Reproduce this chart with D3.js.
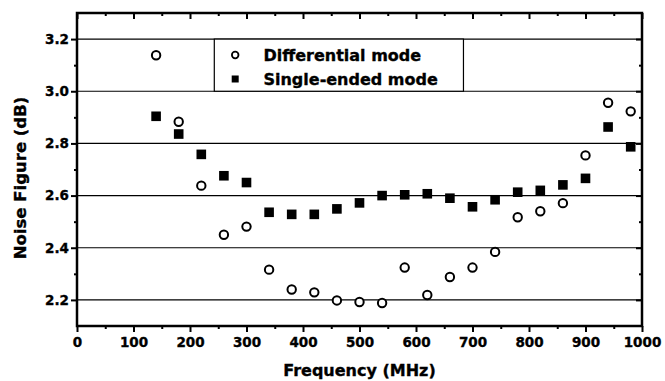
<!DOCTYPE html>
<html>
<head>
<meta charset="utf-8">
<script src="https://cdn.jsdelivr.net/npm/d3@7"></script>
<style>
  body { margin: 0; background: #fff; }
  text { font-family: "DejaVu Sans", "Liberation Sans", Arial, sans-serif; font-weight: bold; fill: #000; stroke: #000; stroke-width: 0.35px; }
</style>
</head>
<body>
<script>
// frequency points (MHz)
var freqs = [140, 180, 220, 260, 300, 340, 380, 420, 460, 500, 540, 580, 620, 660, 700, 740, 780, 820, 860, 900, 940, 980];
// noise figure, differential mode (dB)
var diffNF = [3.138, 2.883, 2.638, 2.45, 2.481, 2.316, 2.24, 2.229, 2.198, 2.192, 2.188, 2.324, 2.219, 2.288, 2.324, 2.384, 2.517, 2.54, 2.571, 2.754, 2.956, 2.923];
// noise figure, single-ended mode (dB)
var singleNF = [2.904, 2.836, 2.758, 2.676, 2.65, 2.536, 2.528, 2.528, 2.549, 2.572, 2.6, 2.603, 2.607, 2.59, 2.557, 2.584, 2.613, 2.62, 2.641, 2.666, 2.863, 2.787];
var xTicks = [0, 100, 200, 300, 400, 500, 600, 700, 800, 900, 1000];
var yTicks = [2.2, 2.4, 2.6, 2.8, 3.0, 3.2];
var seriesNames = ["Differential mode", "Single-ended mode"];

var W = 665, H = 381;
var margin = {left: 77, right: 23, top: 13, bottom: 55};
var w = W - margin.left - margin.right;
var h = H - margin.top - margin.bottom;

var svg = d3.select("body").append("svg")
    .attr("width", W)
    .attr("height", H);

var x = d3.scaleLinear().domain([0, 1000]).range([0, w]);
var y = d3.scaleLinear().domain([2.1, 3.3]).range([h, 0]);

var g = svg.append("g")
    .attr("transform", "translate(" + margin.left + " " + margin.top + ")");

// gridlines
g.append("g").selectAll("line")
    .data(yTicks).enter()
    .append("line")
    .attr("x1", 0).attr("x2", w)
    .attr("y1", function (d) { return y(d); })
    .attr("y2", function (d) { return y(d); })
    .attr("stroke", "#000")
    .attr("stroke-width", 1.2);

// minor ticks
var xMinor = d3.range(50, 1000, 100);
var yMinor = [2.3, 2.5, 2.7, 2.9, 3.1];

function styleAxis(sel) {
    sel.select(".domain").remove();
    sel.selectAll(".tick line").attr("stroke", "#000").attr("stroke-width", 2);
    sel.selectAll(".tick text").style("font-size", "13.5px");
}

// bottom
g.append("g").attr("transform", "translate(0 " + h + ")")
    .call(d3.axisBottom(x).tickValues(xTicks).tickFormat(d3.format("d")).tickSize(6).tickPadding(5))
    .call(styleAxis);
g.append("g").attr("transform", "translate(0 " + h + ")")
    .call(d3.axisBottom(x).tickValues(xMinor).tickFormat("").tickSize(3))
    .call(styleAxis);
// top (inward)
g.append("g")
    .call(d3.axisBottom(x).tickValues(xTicks).tickFormat("").tickSize(6))
    .call(styleAxis);
g.append("g")
    .call(d3.axisBottom(x).tickValues(xMinor).tickFormat("").tickSize(3))
    .call(styleAxis);
// left
g.append("g")
    .call(d3.axisLeft(y).tickValues(yTicks).tickFormat(d3.format(".1f")).tickSize(6).tickPadding(2))
    .call(styleAxis);
g.append("g")
    .call(d3.axisLeft(y).tickValues(yMinor).tickFormat("").tickSize(3))
    .call(styleAxis);
// right (inward)
g.append("g").attr("transform", "translate(" + w + " 0)")
    .call(d3.axisLeft(y).tickValues(yTicks).tickFormat("").tickSize(6))
    .call(styleAxis);
g.append("g").attr("transform", "translate(" + w + " 0)")
    .call(d3.axisLeft(y).tickValues(yMinor).tickFormat("").tickSize(3))
    .call(styleAxis);

// frame
g.append("rect")
    .attr("width", w).attr("height", h)
    .attr("fill", "none")
    .attr("stroke", "#000")
    .attr("stroke-width", 2.5);

// legend box
var lg = g.append("g").attr("class", "legend");
lg.append("rect")
    .attr("x", x(243)).attr("y", y(3.2))
    .attr("width", x(684) - x(243))
    .attr("height", y(3.0) - y(3.2))
    .attr("fill", "#fff")
    .attr("stroke", "#000")
    .attr("stroke-width", 1.2);
lg.append("circle")
    .attr("cx", x(280)).attr("cy", y(3.139))
    .attr("r", 3.3)
    .attr("fill", "#fff").attr("stroke", "#000").attr("stroke-width", 1.8);
lg.append("rect")
    .attr("x", x(280) - 3.5).attr("y", y(3.047) - 3.5)
    .attr("width", 7).attr("height", 7)
    .attr("fill", "#000");
lg.selectAll("text")
    .data(seriesNames).enter()
    .append("text")
    .attr("x", x(330))
    .attr("y", function (d, i) { return y(3.139) + 6 + i * 24; })
    .style("font-size", "16px")
    .text(function (d) { return d; });

// data: squares
g.append("g").selectAll("rect")
    .data(freqs).enter()
    .append("rect")
    .attr("x", function (d) { return x(d) - 4.8; })
    .attr("y", function (d, i) { return y(singleNF[i]) - 4.8; })
    .attr("width", 9.6).attr("height", 9.6)
    .attr("fill", "#000");

// data: circles
g.append("g").selectAll("circle")
    .data(freqs).enter()
    .append("circle")
    .attr("cx", function (d) { return x(d); })
    .attr("cy", function (d, i) { return y(diffNF[i]); })
    .attr("r", 4.2)
    .attr("fill", "#fff")
    .attr("stroke", "#000")
    .attr("stroke-width", 2);

// axis titles
svg.append("text")
    .attr("x", margin.left + w / 2)
    .attr("y", 376)
    .attr("text-anchor", "middle")
    .style("font-size", "16px")
    .text("Frequency (MHz)");

svg.append("text")
    .attr("transform", "translate(26 178) rotate(-90)")
    .attr("text-anchor", "middle")
    .style("font-size", "16.5px")
    .text("Noise Figure (dB)");
</script>
</body>
</html>
